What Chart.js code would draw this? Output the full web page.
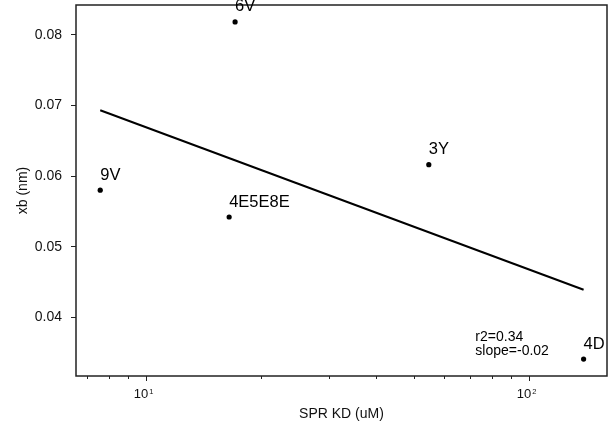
<!DOCTYPE html>
<html>
<head>
<meta charset="utf-8">
<script src="https://cdn.jsdelivr.net/npm/chart.js@4/dist/chart.umd.min.js"></script>
<style>
body { margin: 0; background: #fff; }
#wrap { width: 613px; height: 425px; }
</style>
</head>
<body>
<div id="wrap"><canvas id="kdGraph" width="613" height="425"></canvas></div>
<script>
// points
var pointNames = ["9V", "6V", "4E5E8E", "3Y", "4D"];
var kdValues = [7.6, 17.1, 16.5, 54.8, 139];
var xbValues = [0.0580, 0.0818, 0.0542, 0.0616, 0.0341];

// fitted line ends
var fitX = [7.6, 139];
var fitY = [0.0693, 0.0439];

var statLines = ["r2=0.34", "slope=-0.02"];
var yTicks = [0.04, 0.05, 0.06, 0.07, 0.08];
var xTickValues = [10, 100];
var xTickExp = ["1", "2"];

var fontName = '"Liberation Sans", Arial, Helvetica, sans-serif';

function $each(arr, fn) {
	for (var i = 0; i < arr.length; i++) fn(i, arr[i]);
}

var pointData = [];
$each(kdValues, function (i, v) {
	pointData.push({ x: v, y: xbValues[i] });
});
var fitData = [];
$each(fitX, function (i, v) {
	fitData.push({ x: v, y: fitY[i] });
});

var extras = {
	id: "extras",
	afterDatasetsDraw: function (chart) {
		var ctx = chart.ctx;
		var a = chart.chartArea;
		var xs = chart.scales.x;
		var ys = chart.scales.y;
		ctx.save();
		// frame
		ctx.strokeStyle = "#222";
		ctx.lineWidth = 1.5;
		ctx.strokeRect(a.left, a.top, a.right - a.left, a.bottom - a.top);
		// x ticks, long at decades
		ctx.lineWidth = 1;
		for (var d = 1; d <= 1000; d *= 10) {
			for (var m = 1; m <= 9; m++) {
				var v = d * m;
				if (v < xs.min || v > xs.max) continue;
				var px = Math.round(xs.getPixelForValue(v)) + 0.5;
				ctx.beginPath();
				ctx.moveTo(px, a.bottom);
				ctx.lineTo(px, a.bottom + (m == 1 ? 5 : 3));
				ctx.stroke();
			}
		}
		// decade labels as 10 with a raised power
		ctx.fillStyle = "#111";
		ctx.textAlign = "left";
		ctx.textBaseline = "alphabetic";
		$each(xTickValues, function (i, v) {
			ctx.font = "13px " + fontName;
			var wBase = ctx.measureText("10").width;
			ctx.font = "7.5px " + fontName;
			var wExp = ctx.measureText(xTickExp[i]).width;
			var x0 = xs.getPixelForValue(v) - 2.2 - (wBase + 1 + wExp) / 2;
			ctx.font = "13px " + fontName;
			ctx.fillText("10", x0, a.bottom + 22);
			ctx.font = "7.5px " + fontName;
			ctx.fillText(xTickExp[i], x0 + wBase + 1, a.bottom + 18);
		});
		// point names
		ctx.fillStyle = "#000";
		ctx.font = "16.5px " + fontName;
		$each(pointNames, function (i, name) {
			ctx.fillText(name, xs.getPixelForValue(kdValues[i]), ys.getPixelForValue(xbValues[i]) - 10.5);
		});
		// fit stats
		ctx.font = "14px " + fontName;
		var sx = xs.getPixelForValue(72.5);
		var sy = ys.getPixelForValue(0.0366);
		$each(statLines, function (i, t) {
			ctx.fillText(t, sx, sy + i * 14);
		});
		ctx.restore();
	}
};

var chartData = {
	datasets: [
		{
			label: "points",
			data: pointData,
			backgroundColor: "#000",
			borderColor: "#000",
			pointRadius: 2.6,
			pointBorderWidth: 0,
			showLine: false
		},
		{
			label: "fit",
			data: fitData,
			borderColor: "#000",
			borderWidth: 2,
			pointRadius: 0,
			showLine: true,
			fill: false
		}
	]
};

var graph = new Chart(document.getElementById("kdGraph").getContext("2d"), {
	type: "scatter",
	data: chartData,
	plugins: [extras],
	options: {
		responsive: false,
		animation: false,
		layout: { padding: { top: 5, right: 6, left: 0, bottom: 0 } },
		plugins: {
			legend: { display: false },
			tooltip: { enabled: false }
		},
		scales: {
			x: {
				type: "logarithmic",
				min: 6.57,
				max: 160,
				grid: { display: false },
				border: { display: false },
				afterFit: function (scale) {
					scale.height = 49;
					scale.paddingLeft = 0;
					scale.paddingRight = 0;
				},
				ticks: {
					autoSkip: false,
					maxRotation: 0,
					padding: 2,
					font: { family: fontName, size: 14 },
					callback: function () {
						return "";
					}
				},
				title: {
					display: true,
					text: "SPR KD (uM)",
					color: "#111",
					font: { family: fontName, size: 14 },
					padding: { top: 2, bottom: 2 }
				}
			},
			y: {
				type: "linear",
				min: 0.0317,
				max: 0.0842,
				afterFit: function (scale) {
					scale.width = 76;
					scale.paddingTop = 0;
					scale.paddingBottom = 0;
				},
				afterBuildTicks: function (scale) {
					scale.ticks = yTicks.map(function (v) { return { value: v }; });
				},
				grid: {
					drawOnChartArea: false,
					drawTicks: true,
					tickLength: 5,
					color: "#222",
					lineWidth: 1
				},
				border: { display: false },
				ticks: {
					padding: 9,
					color: "#111",
					font: { family: fontName, size: 14 },
					callback: function (value) {
						return value.toFixed(2);
					}
				},
				title: {
					display: true,
					text: "xb (nm)",
					color: "#111",
					font: { family: fontName, size: 14 },
					padding: { top: 15, bottom: 15 }
				}
			}
		}
	}
});
</script>
</body>
</html>
